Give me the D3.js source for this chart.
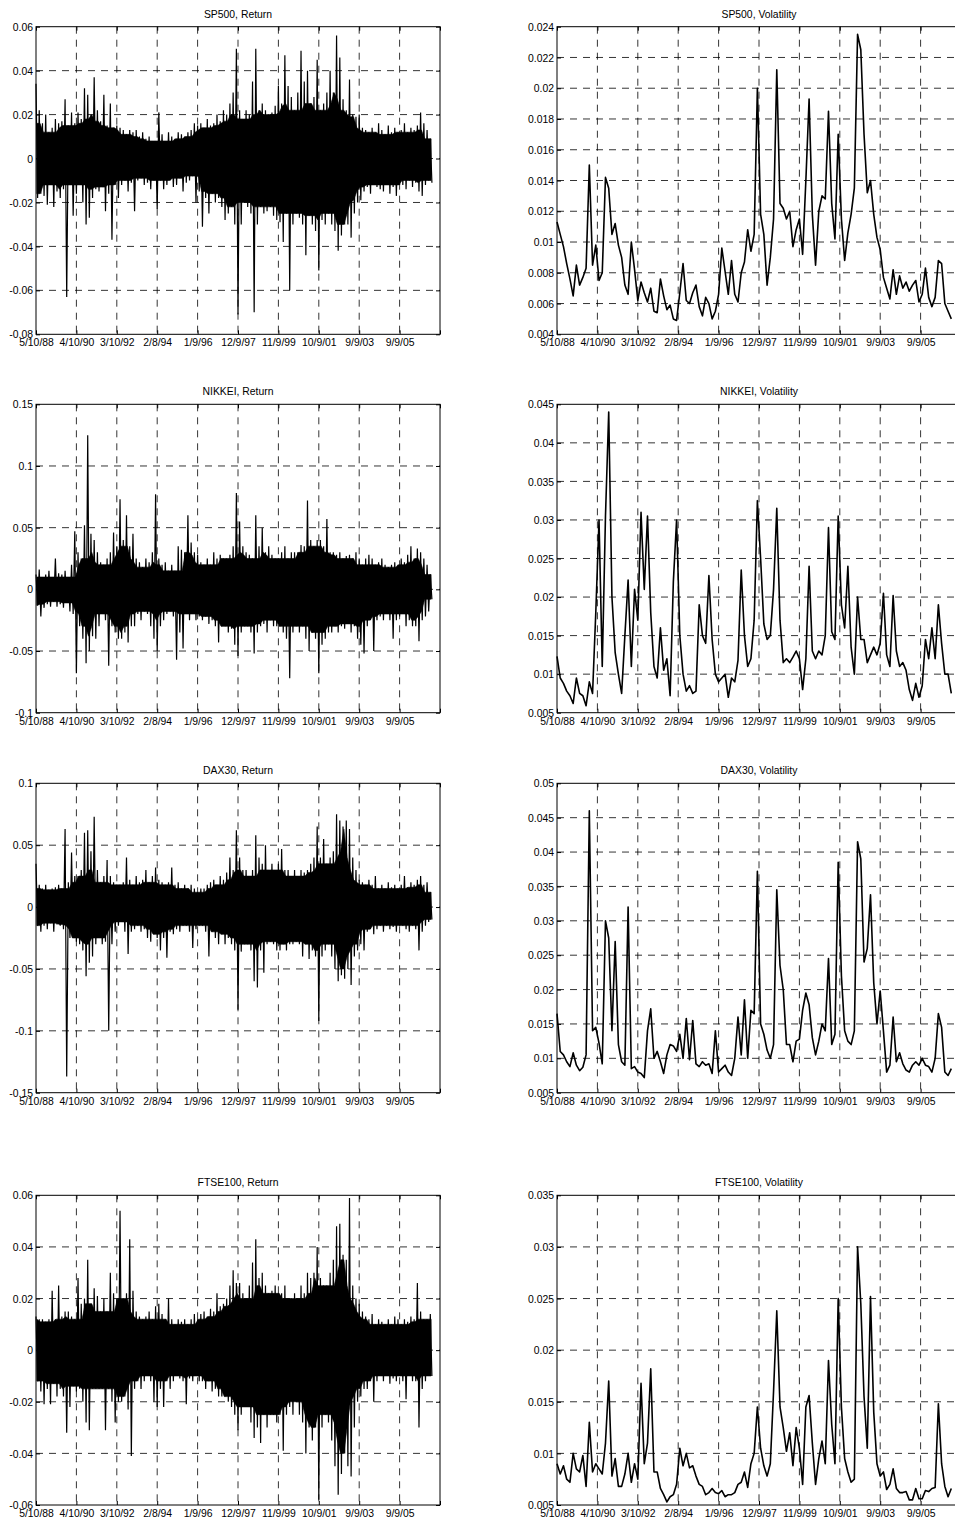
<!DOCTYPE html>
<html>
<head>
<meta charset="utf-8">
<title>Return and volatility</title>
<style>
  body {
    margin: 0;
    background: #fff;
    overflow: hidden;
  }
  svg text {
    font-family: 'Liberation Sans', Arial, Helvetica, sans-serif;
    font-size: 10.4px;
    fill: #000;
    stroke: none;
  }
  .grid line {
    stroke: #000;
    stroke-width: 0.8;
    stroke-dasharray: 7,6;
  }
  .box {
    fill: none;
    stroke: #000;
    stroke-width: 1;
  }
  .tickmark {
    stroke: #000;
    stroke-width: 1;
  }
  .ret {
    fill: none;
    stroke: #000;
    stroke-width: 1.2;
  }
  .core {
    fill: #000;
    stroke: #000;
    stroke-width: 0.6;
  }
  .vol {
    fill: none;
    stroke: #000;
    stroke-width: 1.6;
    stroke-linejoin: round;
  }
</style>
</head>
<body>
<script src="https://cdn.jsdelivr.net/npm/d3@7"></script>
<script>

// x axis: observation number, one tick every 500 days
var dateLabels = ['5/10/88', '4/10/90', '3/10/92', '2/8/94', '1/9/96', '12/9/97', '11/9/99', '10/9/01', '9/9/03', '9/9/05'];
var xTicks = [0, 500, 1000, 1500, 2000, 2500, 3000, 3500, 4000, 4500, 5000];

// values are read every 40 observations; returns as upper / lower extremes of the band
var STEP = 40;

var spRetHi = [0.034,0.022,0.016,0.02,0.012,0.014,0.018,0.016,0.017,0.027,0.015,0.021,0.016,
  0.021,0.018,0.032,0.029,0.02,0.037,0.022,0.017,0.029,0.015,0.025,0.014,0.015,
  0.014,0.013,0.011,0.013,0.012,0.013,0.01,0.012,0.009,0.01,0.008,0.008,
  0.021,0.011,0.008,0.012,0.01,0.009,0.012,0.011,0.01,0.012,0.013,0.016,0.015,
  0.016,0.014,0.018,0.015,0.016,0.02,0.017,0.022,0.02,0.025,0.03,0.05,
  0.022,0.018,0.022,0.02,0.035,0.05,0.022,0.025,0.022,0.02,0.021,0.024,0.033,
  0.025,0.047,0.033,0.028,0.022,0.03,0.049,0.035,0.04,0.025,0.028,0.045,
  0.022,0.025,0.03,0.04,0.03,0.056,0.046,0.027,0.022,0.036,0.02,0.019,0.02,
  0.014,0.013,0.012,0.014,0.012,0.016,0.013,0.011,0.015,0.012,0.014,0.012,
  0.013,0.016,0.012,0.014,0.013,0.015,0.021,0.016,0.013,0.009];
var spRetLo = [-0.018,-0.016,-0.017,-0.021,-0.012,-0.022,-0.015,-0.018,-0.014,-0.063,-0.012,-0.026,-0.016,
  -0.012,-0.02,-0.03,-0.027,-0.018,-0.014,-0.015,-0.013,-0.024,-0.016,-0.037,-0.012,-0.018,
  -0.012,-0.01,-0.015,-0.011,-0.024,-0.01,-0.009,-0.012,-0.011,-0.014,-0.01,-0.023,
  -0.01,-0.014,-0.012,-0.01,-0.013,-0.012,-0.009,-0.015,-0.011,-0.01,-0.008,-0.02,-0.015,
  -0.031,-0.018,-0.025,-0.016,-0.02,-0.018,-0.022,-0.028,-0.025,-0.022,-0.03,-0.071,
  -0.03,-0.02,-0.022,-0.025,-0.07,-0.03,-0.022,-0.025,-0.024,-0.022,-0.026,-0.028,-0.029,
  -0.038,-0.025,-0.06,-0.03,-0.025,-0.027,-0.03,-0.044,-0.026,-0.03,-0.033,-0.051,
  -0.028,-0.03,-0.025,-0.03,-0.033,-0.042,-0.035,-0.03,-0.03,-0.036,-0.025,-0.02,-0.019,
  -0.015,-0.013,-0.016,-0.012,-0.013,-0.014,-0.015,-0.012,-0.016,-0.013,-0.017,-0.012,
  -0.012,-0.014,-0.01,-0.013,-0.011,-0.015,-0.017,-0.012,-0.01,-0.011];
var spVol = [0.0113,0.0105,0.0097,0.0086,0.0076,0.0065,0.0085,0.0072,0.0077,0.0083,0.0150,0.0085,0.0098,
  0.0075,0.0080,0.0142,0.0135,0.0105,0.0112,0.0098,0.0090,0.0072,0.0066,0.0100,0.0082,0.0062,
  0.0074,0.0067,0.0061,0.0070,0.0055,0.0054,0.0076,0.0065,0.0056,0.0059,0.0050,0.0049,
  0.0067,0.0086,0.0062,0.0060,0.0067,0.0072,0.0058,0.0052,0.0064,0.0060,0.0050,0.0055,0.0066,
  0.0096,0.0081,0.0066,0.0088,0.0066,0.0061,0.0080,0.0087,0.0108,0.0094,0.0105,0.0200,
  0.0118,0.0105,0.0072,0.0090,0.0115,0.0212,0.0125,0.0122,0.0115,0.0120,0.0097,0.0108,0.0115,
  0.0092,0.0140,0.0193,0.0118,0.0085,0.0120,0.0130,0.0128,0.0185,0.0125,0.0102,0.0170,
  0.0115,0.0088,0.0106,0.0118,0.0135,0.0235,0.0225,0.0170,0.0132,0.0140,0.0118,0.0103,0.0095,
  0.0077,0.0070,0.0063,0.0082,0.0066,0.0078,0.0070,0.0074,0.0068,0.0072,0.0075,0.0061,
  0.0066,0.0083,0.0064,0.0058,0.0064,0.0088,0.0086,0.0060,0.0055,0.0050];

var nkRetHi = [0.012,0.016,0.01,0.012,0.015,0.01,0.025,0.013,0.012,0.015,0.01,0.02,0.047,
  0.03,0.025,0.052,0.125,0.045,0.04,0.03,0.022,0.02,0.025,0.03,0.046,0.035,
  0.073,0.04,0.06,0.035,0.045,0.025,0.022,0.018,0.025,0.022,0.03,0.077,
  0.025,0.02,0.022,0.015,0.02,0.015,0.035,0.032,0.03,0.06,0.038,0.03,0.028,
  0.022,0.02,0.025,0.02,0.03,0.025,0.028,0.025,0.025,0.028,0.035,0.078,
  0.055,0.035,0.03,0.028,0.025,0.06,0.035,0.05,0.03,0.035,0.028,0.025,0.025,
  0.03,0.035,0.025,0.03,0.03,0.03,0.036,0.035,0.072,0.04,0.035,0.04,
  0.04,0.035,0.057,0.03,0.03,0.028,0.03,0.025,0.027,0.028,0.025,0.03,0.025,
  0.02,0.025,0.028,0.025,0.02,0.022,0.025,0.02,0.018,0.02,0.022,0.02,
  0.025,0.022,0.028,0.035,0.025,0.033,0.03,0.025,0.02,0.012];
var nkRetLo = [-0.013,-0.022,-0.015,-0.012,-0.014,-0.01,-0.014,-0.012,-0.015,-0.011,-0.018,-0.02,-0.068,
  -0.03,-0.04,-0.06,-0.05,-0.038,-0.04,-0.03,-0.02,-0.025,-0.062,-0.03,-0.035,-0.04,
  -0.04,-0.035,-0.043,-0.03,-0.03,-0.02,-0.025,-0.018,-0.02,-0.03,-0.04,-0.05,
  -0.03,-0.025,-0.02,-0.018,-0.022,-0.057,-0.035,-0.048,-0.02,-0.025,-0.02,-0.025,-0.022,
  -0.025,-0.022,-0.028,-0.025,-0.03,-0.043,-0.03,-0.03,-0.035,-0.032,-0.045,-0.054,
  -0.035,-0.03,-0.03,-0.035,-0.052,-0.035,-0.03,-0.028,-0.035,-0.025,-0.03,-0.03,-0.03,
  -0.035,-0.04,-0.072,-0.035,-0.03,-0.035,-0.03,-0.04,-0.05,-0.035,-0.04,-0.068,
  -0.045,-0.04,-0.035,-0.035,-0.03,-0.035,-0.03,-0.032,-0.028,-0.035,-0.03,-0.04,-0.045,
  -0.052,-0.03,-0.025,-0.05,-0.025,-0.022,-0.025,-0.02,-0.025,-0.04,-0.025,-0.022,
  -0.02,-0.03,-0.025,-0.03,-0.03,-0.042,-0.025,-0.022,-0.018,-0.008];
var nkVol = [0.0123,0.0095,0.0088,0.0078,0.0072,0.0062,0.0095,0.0075,0.0072,0.0059,0.0090,0.0075,0.0180,
  0.0300,0.0110,0.0305,0.0440,0.0200,0.0128,0.0100,0.0075,0.0150,0.0222,0.0110,0.0210,0.0170,
  0.0310,0.0210,0.0305,0.0180,0.0110,0.0095,0.0160,0.0105,0.0120,0.0072,0.0220,0.0300,
  0.0150,0.0100,0.0078,0.0085,0.0075,0.0078,0.0190,0.0150,0.0140,0.0228,0.0145,0.0100,0.0090,
  0.0095,0.0100,0.0070,0.0095,0.0090,0.0118,0.0235,0.0150,0.0110,0.0120,0.0170,0.0325,
  0.0250,0.0165,0.0145,0.0150,0.0210,0.0315,0.0170,0.0115,0.0120,0.0115,0.0122,0.0130,0.0120,
  0.0080,0.0120,0.0240,0.0130,0.0120,0.0130,0.0125,0.0150,0.0290,0.0155,0.0145,0.0305,
  0.0190,0.0160,0.0240,0.0135,0.0100,0.0200,0.0145,0.0145,0.0115,0.0125,0.0135,0.0125,0.0140,
  0.0205,0.0125,0.0110,0.0202,0.0130,0.0110,0.0115,0.0105,0.0080,0.0066,0.0088,0.0070,
  0.0085,0.0145,0.0120,0.0160,0.0120,0.0190,0.0140,0.0100,0.0100,0.0075];

var dxRetHi = [0.035,0.018,0.015,0.018,0.014,0.015,0.016,0.018,0.015,0.063,0.02,0.044,0.025,
  0.025,0.03,0.06,0.062,0.045,0.073,0.03,0.02,0.025,0.038,0.025,0.02,0.018,
  0.018,0.02,0.04,0.022,0.018,0.025,0.02,0.022,0.03,0.02,0.025,0.032,
  0.022,0.02,0.018,0.02,0.032,0.018,0.02,0.015,0.018,0.015,0.018,0.015,0.012,
  0.015,0.015,0.018,0.02,0.022,0.018,0.025,0.022,0.028,0.04,0.03,0.062,
  0.04,0.03,0.03,0.025,0.03,0.058,0.04,0.035,0.05,0.03,0.035,0.03,0.035,
  0.047,0.03,0.03,0.025,0.03,0.025,0.03,0.028,0.03,0.035,0.04,0.065,
  0.04,0.055,0.035,0.04,0.045,0.075,0.07,0.065,0.07,0.063,0.04,0.03,0.022,
  0.02,0.018,0.022,0.018,0.025,0.015,0.018,0.015,0.02,0.016,0.018,0.015,
  0.018,0.025,0.016,0.02,0.018,0.022,0.025,0.018,0.02,0.012];
var dxRetLo = [-0.015,-0.02,-0.015,-0.018,-0.013,-0.02,-0.014,-0.015,-0.018,-0.137,-0.025,-0.025,-0.028,
  -0.03,-0.035,-0.056,-0.045,-0.04,-0.03,-0.025,-0.03,-0.028,-0.1,-0.03,-0.02,-0.015,
  -0.012,-0.02,-0.038,-0.02,-0.018,-0.015,-0.02,-0.018,-0.025,-0.028,-0.022,-0.025,
  -0.035,-0.025,-0.041,-0.02,-0.022,-0.018,-0.02,-0.015,-0.015,-0.02,-0.033,-0.018,-0.015,
  -0.015,-0.02,-0.04,-0.02,-0.025,-0.03,-0.022,-0.03,-0.025,-0.03,-0.035,-0.083,
  -0.036,-0.03,-0.03,-0.035,-0.06,-0.065,-0.035,-0.053,-0.03,-0.028,-0.03,-0.035,-0.035,
  -0.03,-0.035,-0.03,-0.03,-0.028,-0.03,-0.04,-0.03,-0.042,-0.035,-0.04,-0.092,
  -0.04,-0.035,-0.03,-0.04,-0.05,-0.06,-0.055,-0.058,-0.05,-0.063,-0.04,-0.035,-0.03,
  -0.035,-0.02,-0.018,-0.022,-0.018,-0.015,-0.02,-0.015,-0.018,-0.016,-0.02,-0.015,
  -0.015,-0.018,-0.02,-0.015,-0.018,-0.035,-0.02,-0.015,-0.012,-0.01];
var dxVol = [0.0165,0.0110,0.0105,0.0095,0.0088,0.0108,0.0090,0.0082,0.0087,0.0105,0.0460,0.0140,0.0145,
  0.0122,0.0092,0.0300,0.0275,0.0140,0.0270,0.0120,0.0095,0.0090,0.0320,0.0085,0.0088,0.0080,
  0.0078,0.0072,0.0140,0.0172,0.0100,0.0110,0.0095,0.0078,0.0105,0.0120,0.0118,0.0110,
  0.0135,0.0100,0.0158,0.0098,0.0155,0.0092,0.0088,0.0095,0.0090,0.0092,0.0078,0.0140,0.0080,
  0.0085,0.0090,0.0080,0.0075,0.0100,0.0160,0.0105,0.0185,0.0100,0.0170,0.0165,0.0372,
  0.0150,0.0135,0.0112,0.0100,0.0120,0.0345,0.0235,0.0200,0.0120,0.0120,0.0095,0.0125,0.0128,
  0.0170,0.0195,0.0178,0.0130,0.0105,0.0125,0.0150,0.0140,0.0245,0.0120,0.0135,0.0385,
  0.0220,0.0140,0.0125,0.0120,0.0140,0.0415,0.0390,0.0240,0.0260,0.0338,0.0210,0.0150,0.0198,
  0.0140,0.0080,0.0090,0.0160,0.0095,0.0108,0.0092,0.0083,0.0080,0.0090,0.0095,0.0090,
  0.0100,0.0090,0.0088,0.0080,0.0100,0.0165,0.0145,0.0080,0.0075,0.0085];

var ftRetHi = [0.013,0.012,0.012,0.011,0.012,0.023,0.012,0.025,0.013,0.015,0.015,0.013,0.012,
  0.028,0.018,0.02,0.035,0.018,0.024,0.021,0.015,0.02,0.015,0.03,0.022,0.02,
  0.054,0.02,0.022,0.043,0.023,0.015,0.013,0.012,0.013,0.015,0.012,0.017,
  0.018,0.014,0.012,0.02,0.012,0.01,0.012,0.011,0.012,0.01,0.012,0.014,0.012,
  0.014,0.015,0.013,0.016,0.015,0.022,0.017,0.018,0.02,0.025,0.031,0.026,
  0.026,0.022,0.02,0.025,0.034,0.043,0.028,0.03,0.025,0.022,0.023,0.025,0.022,
  0.022,0.025,0.02,0.02,0.022,0.02,0.025,0.022,0.03,0.028,0.03,0.04,
  0.028,0.025,0.025,0.03,0.035,0.048,0.049,0.037,0.035,0.059,0.025,0.02,0.018,
  0.015,0.013,0.012,0.014,0.01,0.012,0.011,0.01,0.012,0.01,0.013,0.012,
  0.01,0.012,0.011,0.013,0.012,0.026,0.015,0.012,0.012,0.014];
var ftRetLo = [-0.012,-0.016,-0.021,-0.015,-0.021,-0.013,-0.018,-0.015,-0.018,-0.032,-0.022,-0.014,-0.016,
  -0.015,-0.02,-0.028,-0.031,-0.015,-0.015,-0.015,-0.015,-0.031,-0.015,-0.02,-0.028,-0.02,
  -0.02,-0.018,-0.023,-0.041,-0.015,-0.012,-0.015,-0.012,-0.01,-0.012,-0.02,-0.022,
  -0.015,-0.022,-0.012,-0.015,-0.012,-0.01,-0.011,-0.012,-0.021,-0.011,-0.012,-0.01,-0.012,
  -0.012,-0.015,-0.012,-0.016,-0.015,-0.018,-0.018,-0.018,-0.02,-0.022,-0.025,-0.031,
  -0.025,-0.022,-0.022,-0.028,-0.034,-0.03,-0.036,-0.025,-0.03,-0.025,-0.025,-0.028,-0.025,
  -0.039,-0.025,-0.022,-0.025,-0.02,-0.025,-0.028,-0.04,-0.03,-0.035,-0.03,-0.058,
  -0.03,-0.025,-0.028,-0.035,-0.045,-0.056,-0.048,-0.04,-0.045,-0.049,-0.03,-0.02,-0.018,
  -0.015,-0.015,-0.012,-0.02,-0.012,-0.01,-0.012,-0.01,-0.013,-0.011,-0.012,-0.01,
  -0.012,-0.019,-0.01,-0.012,-0.012,-0.03,-0.015,-0.012,-0.01,-0.01];
var ftVol = [0.0090,0.0080,0.0088,0.0075,0.0072,0.0100,0.0085,0.0082,0.0098,0.0068,0.0130,0.0082,0.0090,
  0.0085,0.0080,0.0110,0.0170,0.0078,0.0095,0.0068,0.0068,0.0080,0.0100,0.0072,0.0090,0.0075,
  0.0168,0.0090,0.0110,0.0182,0.0082,0.0082,0.0066,0.0060,0.0053,0.0058,0.0060,0.0070,
  0.0105,0.0088,0.0100,0.0086,0.0088,0.0078,0.0070,0.0068,0.0060,0.0062,0.0066,0.0062,0.0061,
  0.0064,0.0058,0.0060,0.0060,0.0062,0.0070,0.0072,0.0082,0.0067,0.0090,0.0100,0.0145,
  0.0105,0.0088,0.0078,0.0090,0.0160,0.0238,0.0145,0.0125,0.0102,0.0120,0.0088,0.0125,0.0105,
  0.0070,0.0145,0.0156,0.0110,0.0070,0.0095,0.0112,0.0090,0.0190,0.0128,0.0090,0.0250,
  0.0145,0.0095,0.0082,0.0072,0.0075,0.0300,0.0245,0.0155,0.0105,0.0252,0.0140,0.0090,0.0078,
  0.0082,0.0065,0.0070,0.0085,0.0066,0.0062,0.0062,0.0063,0.0055,0.0055,0.0066,0.0056,
  0.0056,0.0064,0.0063,0.0066,0.0067,0.0148,0.0090,0.0068,0.0058,0.0066];

// y tick values per panel
var spRetTicks = [-0.08, -0.06, -0.04, -0.02, 0, 0.02, 0.04, 0.06];
var spVolTicks = [0.004, 0.006, 0.008, 0.01, 0.012, 0.014, 0.016, 0.018, 0.02, 0.022, 0.024];
var nkRetTicks = [-0.1, -0.05, 0, 0.05, 0.1, 0.15];
var nkVolTicks = [0.005, 0.01, 0.015, 0.02, 0.025, 0.03, 0.035, 0.04, 0.045];
var dxRetTicks = [-0.15, -0.1, -0.05, 0, 0.05, 0.1];
var dxVolTicks = [0.005, 0.01, 0.015, 0.02, 0.025, 0.03, 0.035, 0.04, 0.045, 0.05];
var ftRetTicks = [-0.06, -0.04, -0.02, 0, 0.02, 0.04, 0.06];
var ftVolTicks = [0.005, 0.01, 0.015, 0.02, 0.025, 0.03, 0.035];

var panels = [
  { title: 'SP500, Return', row: 0, col: 0, hi: spRetHi, lo: spRetLo, ticks: spRetTicks },
  { title: 'SP500, Volatility', row: 0, col: 1, vol: spVol, ticks: spVolTicks },
  { title: 'NIKKEI, Return', row: 1, col: 0, hi: nkRetHi, lo: nkRetLo, ticks: nkRetTicks },
  { title: 'NIKKEI, Volatility', row: 1, col: 1, vol: nkVol, ticks: nkVolTicks },
  { title: 'DAX30, Return', row: 2, col: 0, hi: dxRetHi, lo: dxRetLo, ticks: dxRetTicks },
  { title: 'DAX30, Volatility', row: 2, col: 1, vol: dxVol, ticks: dxVolTicks },
  { title: 'FTSE100, Return', row: 3, col: 0, hi: ftRetHi, lo: ftRetLo, ticks: ftRetTicks },
  { title: 'FTSE100, Volatility', row: 3, col: 1, vol: ftVol, ticks: ftVolTicks }
];

var width = 955;
var height = 1519;
var colLeft = [36, 557];
var plotW = 404;
var rowTop = [26.7, 404.3, 783.3, 1195.3];
var rowBottom = [334.3, 712.7, 1092.7, 1505];
var tickLen = 4;

var svg = d3.select('body').append('svg')
  .attr('width', width)
  .attr('height', height);

panels.forEach(function (p) {
  var x0 = colLeft[p.col];
  var y0 = rowTop[p.row];
  var h = rowBottom[p.row] - y0;
  var ticks = p.ticks;

  var x = d3.scaleLinear().domain([0, 5000]).range([0, plotW]);
  var y = d3.scaleLinear().domain([ticks[0], ticks[ticks.length - 1]]).range([h, 0]);

  var g = svg.append('g').attr('transform', 'translate(' + x0 + ',' + y0 + ')');

  // dashed grid
  var grid = g.append('g').attr('class', 'grid');
  grid.selectAll('line.gx')
    .data(xTicks.slice(1, -1))
    .enter().append('line')
    .attr('x1', function (d) { return x(d); })
    .attr('x2', function (d) { return x(d); })
    .attr('y1', 0)
    .attr('y2', h);
  grid.selectAll('line.gy')
    .data(ticks.slice(1, -1))
    .enter().append('line')
    .attr('x1', 0)
    .attr('x2', plotW)
    .attr('y1', function (d) { return y(d); })
    .attr('y2', function (d) { return y(d); });

  if (p.vol) {
    var volLine = d3.line()
      .x(function (d, k) { return x(k * STEP); })
      .y(function (d) { return y(d); });
    g.append('path').attr('class', 'vol').attr('d', volLine(p.vol));
  } else {
    var n = p.hi.length;
    // solid core: the part of the band that all blocks within two steps cover
    var core = d3.range(n).map(function (k) {
      var a = Math.max(0, k - 2), b = Math.min(n - 1, k + 2);
      return {
        k: k,
        top: d3.min(p.hi.slice(a, b + 1)),
        bot: d3.max(p.lo.slice(a, b + 1))
      };
    });
    var coreArea = d3.area()
      .x(function (d) { return x(d.k * STEP + STEP / 4); })
      .y0(function (d) { return y(d.bot); })
      .y1(function (d) { return y(d.top); });
    g.append('path').attr('class', 'core').attr('d', coreArea(core));

    // zigzag between the upper and lower extreme of each 40-day block
    var pts = [];
    p.hi.forEach(function (v, k) {
      pts.push([k * STEP, v]);
      pts.push([k * STEP + STEP / 2, p.lo[k]]);
    });
    var retLine = d3.line()
      .x(function (d) { return x(d[0]); })
      .y(function (d) { return y(d[1]); });
    g.append('path').attr('class', 'ret').attr('d', retLine(pts));
  }

  // inward ticks on all four sides
  var xAxisB = d3.axisBottom(x).tickValues(xTicks).tickSizeInner(-tickLen).tickSizeOuter(0)
    .tickFormat(function (d, i) { return dateLabels[i] || ''; });
  var xAxisT = d3.axisTop(x).tickValues(xTicks).tickSizeInner(-tickLen).tickSizeOuter(0).tickFormat('');
  var yAxisL = d3.axisLeft(y).tickValues(ticks).tickSizeInner(-tickLen).tickSizeOuter(0)
    .tickFormat(function (d) { return String(d); });
  var yAxisR = d3.axisRight(y).tickValues(ticks).tickSizeInner(-tickLen).tickSizeOuter(0).tickFormat('');

  var ax = g.append('g').attr('transform', 'translate(0,' + h + ')').call(xAxisB);
  ax.selectAll('text').attr('dy', null).attr('y', 12);
  g.append('g').call(xAxisT);
  var ay = g.append('g').call(yAxisL);
  ay.selectAll('text').attr('x', -3).attr('dy', '0.35em');
  g.append('g').attr('transform', 'translate(' + plotW + ',0)').call(yAxisR);

  g.selectAll('.domain').remove();
  g.selectAll('.tick line').attr('class', 'tickmark').attr('stroke', '#000');
  g.selectAll('.tick text').attr('fill', '#000').style('font-size', '10.4px')
    .style('font-family', "'Liberation Sans', Arial, Helvetica, sans-serif");

  g.append('rect').attr('class', 'box')
    .attr('x', 0).attr('y', 0)
    .attr('width', plotW).attr('height', h);

  g.append('text')
    .attr('x', plotW / 2)
    .attr('y', -9)
    .attr('text-anchor', 'middle')
    .text(p.title);
});

</script>
</body>
</html>
